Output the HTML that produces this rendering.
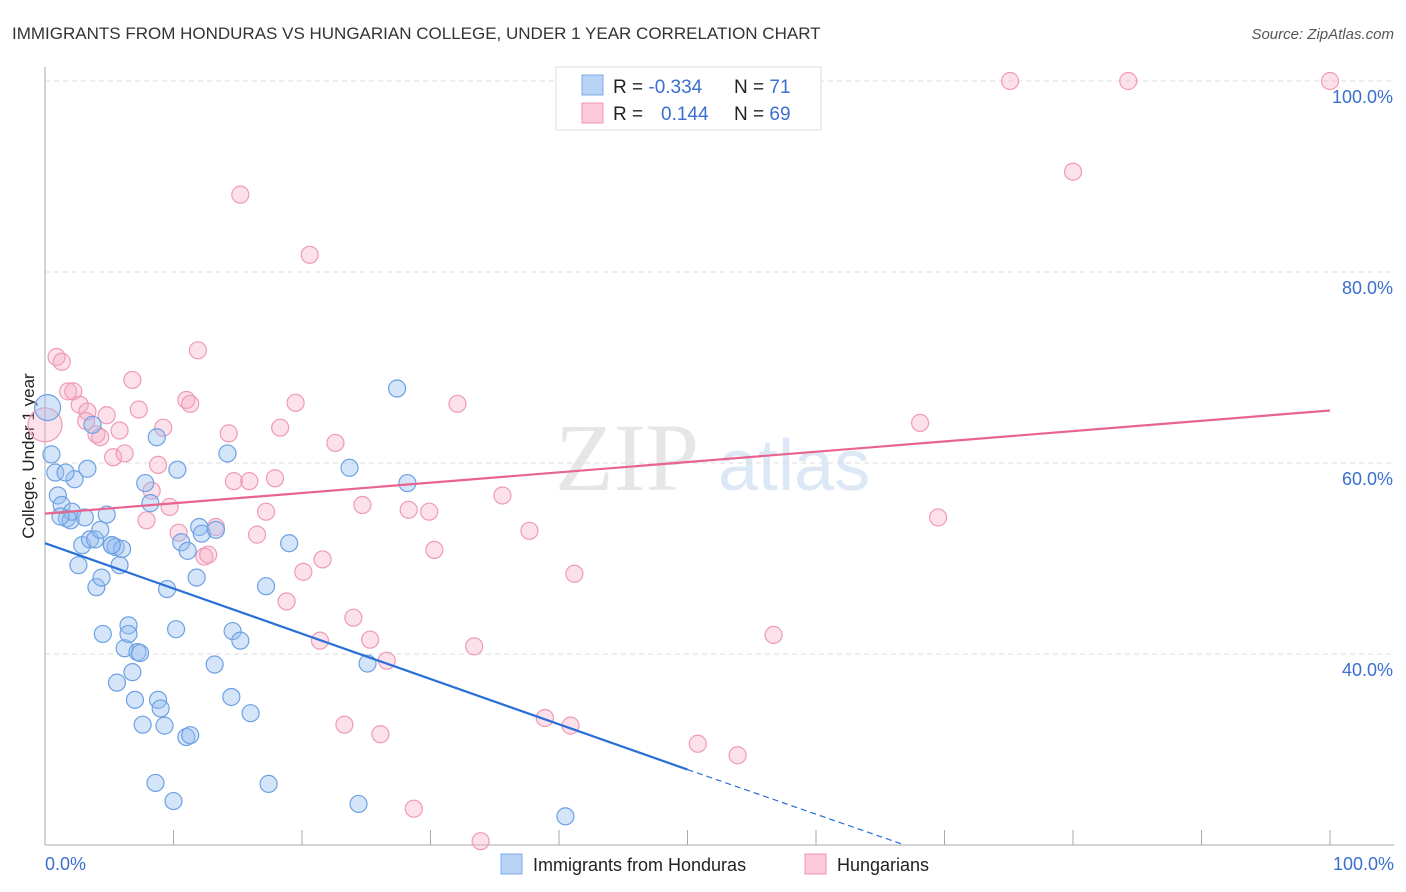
<!DOCTYPE html>
<html><head><meta charset="utf-8"><style>
body{margin:0;background:#fff;font-family:"Liberation Sans",sans-serif;}
#wrap{position:relative;width:1406px;height:892px;overflow:hidden}
</style></head><body>
<div id="wrap">
<svg id="svg" width="1406" height="892" xmlns="http://www.w3.org/2000/svg">
<text x="12" y="39" font-size="17" fill="#333">IMMIGRANTS FROM HONDURAS VS HUNGARIAN COLLEGE, UNDER 1 YEAR CORRELATION CHART</text>
<text x="1394" y="39" font-size="15" fill="#555" font-style="italic" text-anchor="end">Source: ZipAtlas.com</text>
<text x="555" y="490" font-size="96" fill="#e6e6e6" font-family="Liberation Serif">ZIP</text>
<text x="718" y="490" font-size="72" fill="#dce8f6">atlas</text>
<text transform="translate(34,456) rotate(-90)" font-size="17" fill="#222" text-anchor="middle">College, Under 1 year</text>
<g id="grid"></g><g id="pts"></g><g id="lines"></g>
<g>
<rect x="556" y="67" width="265" height="63" fill="#fff" stroke="#ddd"/>
<rect x="582" y="75" width="21" height="20" fill="#b8d3f5" stroke="#7eaae8"/>
<rect x="582" y="103" width="21" height="20" fill="#fbc9d8" stroke="#f095b2"/>
<text x="613" y="93" font-size="19" fill="#222">R = <tspan fill="#3a6fd0">-0.334</tspan></text>
<text x="734" y="93" font-size="19" fill="#222">N = <tspan fill="#3a6fd0"> 71</tspan></text>
<text x="613" y="120" font-size="19" fill="#222">R = <tspan fill="#3a6fd0" x="661">0.144</tspan></text>
<text x="734" y="120" font-size="19" fill="#222">N = <tspan fill="#3a6fd0">69</tspan></text>
</g>
<g>
<rect x="501" y="854" width="21" height="20" fill="#b8d3f5" stroke="#7eaae8"/>
<text x="533" y="871" font-size="18" fill="#222">Immigrants from Honduras</text>
<rect x="805" y="854" width="21" height="20" fill="#fbc9d8" stroke="#f095b2"/>
<text x="837" y="871" font-size="18" fill="#222">Hungarians</text>
</g>
</svg></div>
<script>
const yTicks=[40,60,80,100];
const xTickLabels=["0.0%","100.0%"];
const blueX=[0.2,0.5,0.8,1,1.3,1.7,2,2.3,3.3,2.1,3.1,2.9,3.5,3.9,4.3,4.8,5.2,5.5,5.8,6,2.6,4,4.4,4.5,5.6,6.2,6.5,6.5,7.2,7.4,6.8,7,7.6,8.8,9,9.3,11,11.3,8.7,7.8,8.2,10.3,10.6,11.1,11.8,12,12.2,13.2,13.3,14.2,14.5,14.6,15.2,16,17.2,17.4,10.2,9.5,8.6,10,19,23.7,25.1,24.4,27.4,28.2,40.5,5.2,1.6,1.2,3.7];
const blueY=[65.8,60.9,59.0,56.6,55.6,54.2,54.0,58.3,59.4,54.9,54.3,51.4,52,52,53.0,54.6,51.4,51.2,49.3,51.0,49.3,47.0,48,42.1,37.0,40.6,43.0,42.1,40.2,40.1,38.1,35.2,32.6,35.2,34.3,32.5,31.3,31.5,62.7,57.9,55.8,59.3,51.7,50.8,48,53.3,52.6,38.9,53.0,61.0,35.5,42.4,41.4,33.8,47.1,26.4,42.6,46.8,26.5,24.6,51.6,59.5,39.0,24.3,67.8,57.9,23.0,51.4,59.0,54.4,64];
const pinkX=[0,0.9,1.3,1.8,2.2,2.7,3.3,3.2,4,4.8,4.3,5.3,5.8,6.2,6.8,7.3,7.9,8.3,8.8,9.2,9.7,10.4,11,11.3,11.9,12.4,12.7,13.3,14.3,14.7,15.2,15.9,16.5,17.2,17.9,18.3,18.8,19.5,20.1,20.6,21.4,21.6,22.6,23.3,24,24.7,25.3,26.1,26.6,28.3,28.7,29.9,30.3,32.1,33.4,33.9,35.6,37.7,38.9,40.9,41.2,50.8,53.9,56.7,68.1,69.5,75.1,80,84.3,100];
const pinkY=[64,71.1,70.6,67.5,67.5,66.1,65.4,64.4,63.0,65.0,62.7,60.6,63.4,61.0,68.7,65.6,54.0,57.1,59.8,63.7,55.4,52.7,66.6,66.2,71.8,50.2,50.4,53.3,63.1,58.1,88.1,58.1,52.5,54.9,58.4,63.7,45.5,66.3,48.6,81.8,41.4,49.9,62.1,32.6,43.8,55.6,41.5,31.6,39.3,55.1,23.8,54.9,50.9,66.2,40.8,20.4,56.6,52.9,33.3,32.5,48.4,30.6,29.4,42,64.2,54.3,100,90.5,100,100];
const X=v=>45+v*12.85, Y=v=>81+(100-v)*9.55;
const ns="http://www.w3.org/2000/svg";
function mk(tag,at,parent){const e=document.createElementNS(ns,tag);for(const k in at)e.setAttribute(k,at[k]);parent.appendChild(e);return e;}
const grid=document.getElementById('grid');
for(const t of yTicks){
 const l=mk('line',{x1:45,x2:1394,y1:Y(t),y2:Y(t),stroke:'#ddd','stroke-dasharray':'5,4'},grid);
 
 
 const tx=mk('text',{x:1393,y:Y(t)+22,'font-size':18,fill:'#3a6fd0','text-anchor':'end'},grid);
 tx.textContent=t.toFixed(1)+'%';
 
 
}
const ax=mk('line',{x1:45,x2:45,y1:67,y2:845,stroke:'#aaa'},grid);


const bx=mk('line',{x1:45,x2:1394,y1:845,y2:845,stroke:'#aaa'},grid);


for(let i=1;i<=10;i++){const t=mk('line',{x1:X(i*10),x2:X(i*10),y1:830,y2:845,stroke:'#aaa'},grid);
 
 }
const xl0=mk('text',{x:45,y:870,'font-size':18,fill:'#3a6fd0'},grid);xl0.textContent=xTickLabels[0];


const xl1=mk('text',{x:1394,y:870,'font-size':18,fill:'#3a6fd0','text-anchor':'end'},grid);xl1.textContent=xTickLabels[1];


const pts=document.getElementById('pts');
pinkX.forEach((v,i)=>{const c=mk('circle',{cx:X(v),cy:Y(pinkY[i]),r:i==0?17:8.5,fill:'rgba(246,170,195,0.35)',stroke:'#ef9ab6','stroke-width':1.2},pts);
 
 });
blueX.forEach((v,i)=>{const c=mk('circle',{cx:X(v),cy:Y(blueY[i]),r:i==0?13:8.5,fill:'rgba(150,190,240,0.4)',stroke:'#6ea1e3','stroke-width':1.2},pts);
 
 });
const lines=document.getElementById('lines');
const b1=mk('line',{x1:X(0),y1:Y(51.6),x2:X(50),y2:Y(27.9),stroke:'#2a6fd6','stroke-width':2.2},lines);


const b2=mk('line',{x1:X(50),y1:Y(27.9),x2:X(66.9),y2:Y(20),stroke:'#2a6fd6','stroke-width':1.2,'stroke-dasharray':'6,4'},lines);


const p1=mk('line',{x1:X(0),y1:Y(54.7),x2:X(100),y2:Y(65.5),stroke:'#e8648f','stroke-width':2.2},lines);


</script>
</body></html>
